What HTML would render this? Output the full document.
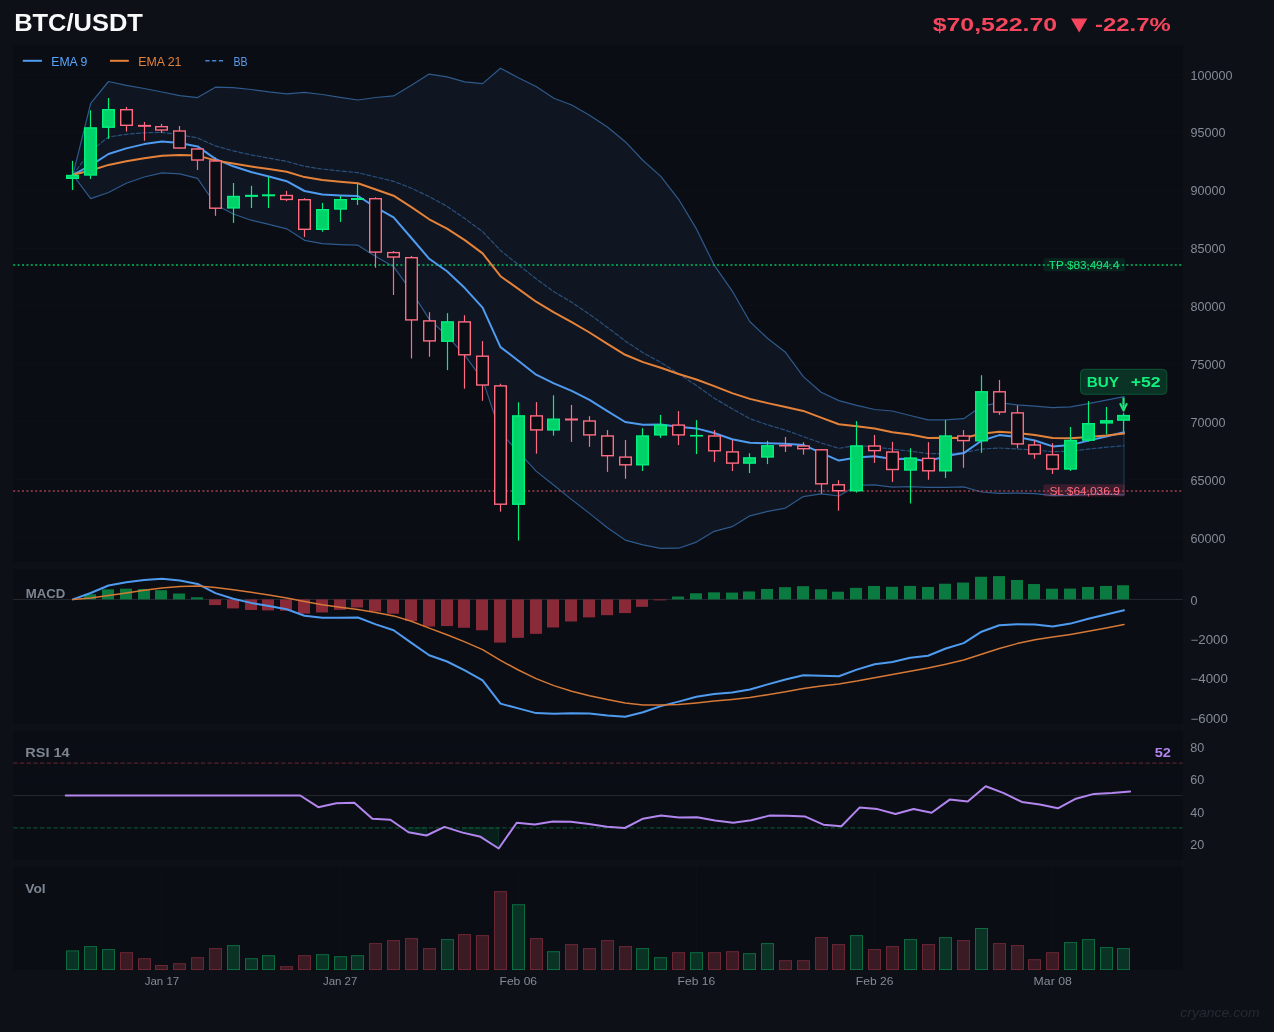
<!DOCTYPE html>
<html><head><meta charset="utf-8"><style>
html,body{margin:0;padding:0;background:#0d1017;width:1274px;height:1032px;overflow:hidden}
svg{display:block;will-change:transform}
</style></head><body>
<svg width="1274" height="1032" viewBox="0 0 1274 1032">
<rect x="0" y="0" width="1274" y2="1032" height="1032" fill="#0d1017"/>
<rect x="13.2" y="45" width="1169.4" height="517.0" fill="#0a0d14"/>
<rect x="13.2" y="569" width="1169.4" height="155.0" fill="#0a0d14"/>
<rect x="13.2" y="731" width="1169.4" height="128.6" fill="#0a0d14"/>
<rect x="13.2" y="867.4" width="1169.4" height="102.6" fill="#0a0d14"/>
<line x1="13.2" x2="1182.6" y1="74.5" y2="74.5" stroke="#0c1017" stroke-width="1"/>
<line x1="13.2" x2="1182.6" y1="132.5" y2="132.5" stroke="#0c1017" stroke-width="1"/>
<line x1="13.2" x2="1182.6" y1="190.5" y2="190.5" stroke="#0c1017" stroke-width="1"/>
<line x1="13.2" x2="1182.6" y1="248.5" y2="248.5" stroke="#0c1017" stroke-width="1"/>
<line x1="13.2" x2="1182.6" y1="305.5" y2="305.5" stroke="#0c1017" stroke-width="1"/>
<line x1="13.2" x2="1182.6" y1="363.5" y2="363.5" stroke="#0c1017" stroke-width="1"/>
<line x1="13.2" x2="1182.6" y1="421.5" y2="421.5" stroke="#0c1017" stroke-width="1"/>
<line x1="13.2" x2="1182.6" y1="479.5" y2="479.5" stroke="#0c1017" stroke-width="1"/>
<line x1="13.2" x2="1182.6" y1="537.5" y2="537.5" stroke="#0c1017" stroke-width="1"/>
<polygon points="72.9,174.8 90.7,103.4 108.5,81.5 126.3,85.3 144.2,88.5 162.0,92.0 179.8,95.6 197.6,97.6 215.4,87.2 233.2,87.7 251.1,89.5 268.9,91.9 286.7,93.9 304.5,92.3 322.3,94.5 340.1,97.3 357.9,100.0 375.8,97.5 393.6,95.9 411.4,85.2 429.2,74.1 447.0,76.8 464.8,81.8 482.6,83.6 500.5,68.2 518.3,77.7 536.1,86.5 553.9,98.2 571.7,105.0 589.5,115.2 607.4,127.0 625.2,141.7 643.0,160.5 660.8,176.4 678.6,199.3 696.4,228.9 714.2,265.1 732.1,290.8 749.9,321.7 767.7,338.5 785.5,352.3 803.3,376.6 821.1,392.2 838.9,400.6 856.8,405.3 874.6,409.5 892.4,411.0 910.2,415.5 928.0,419.9 945.8,419.9 963.7,418.7 981.5,406.3 999.3,402.6 1017.1,404.9 1034.9,406.2 1052.7,407.7 1070.5,406.8 1088.4,403.6 1106.2,400.2 1124.0,396.6 1124.0,494.8 1106.2,494.2 1088.4,494.6 1070.5,495.4 1052.7,495.7 1034.9,493.7 1017.1,493.1 999.3,493.4 981.5,492.0 963.7,486.9 945.8,487.3 928.0,487.3 910.2,486.6 892.4,487.2 874.6,484.8 856.8,485.4 838.9,496.0 821.1,493.8 803.3,496.6 785.5,508.1 767.7,511.4 749.9,515.8 732.1,526.7 714.2,531.3 696.4,542.1 678.6,548.2 660.8,548.4 643.0,544.9 625.2,540.1 607.4,527.7 589.5,513.4 571.7,499.6 553.9,485.2 536.1,471.1 518.3,451.7 500.5,432.8 482.6,379.6 464.8,355.4 447.0,335.8 429.2,319.1 411.4,291.3 393.6,266.7 375.8,256.6 357.9,245.2 340.1,244.6 322.3,243.7 304.5,240.3 286.7,228.8 268.9,224.4 251.1,220.2 233.2,214.0 215.4,204.5 197.6,178.4 179.8,173.8 162.0,172.8 144.2,177.0 126.3,183.2 108.5,192.5 90.7,198.6 72.9,174.8" fill="#0f1521" stroke="none"/>
<line x1="1124.0" x2="1124.0" y1="396.6" y2="494.8" stroke="#2e5a8c" stroke-opacity="0.6" stroke-width="1"/>
<polyline points="72.9,174.8 90.7,103.4 108.5,81.5 126.3,85.3 144.2,88.5 162.0,92.0 179.8,95.6 197.6,97.6 215.4,87.2 233.2,87.7 251.1,89.5 268.9,91.9 286.7,93.9 304.5,92.3 322.3,94.5 340.1,97.3 357.9,100.0 375.8,97.5 393.6,95.9 411.4,85.2 429.2,74.1 447.0,76.8 464.8,81.8 482.6,83.6 500.5,68.2 518.3,77.7 536.1,86.5 553.9,98.2 571.7,105.0 589.5,115.2 607.4,127.0 625.2,141.7 643.0,160.5 660.8,176.4 678.6,199.3 696.4,228.9 714.2,265.1 732.1,290.8 749.9,321.7 767.7,338.5 785.5,352.3 803.3,376.6 821.1,392.2 838.9,400.6 856.8,405.3 874.6,409.5 892.4,411.0 910.2,415.5 928.0,419.9 945.8,419.9 963.7,418.7 981.5,406.3 999.3,402.6 1017.1,404.9 1034.9,406.2 1052.7,407.7 1070.5,406.8 1088.4,403.6 1106.2,400.2 1124.0,396.6" fill="none" stroke="#2e5a8c" stroke-width="1.2" stroke-linejoin="round" stroke-linecap="round" />
<polyline points="72.9,174.8 90.7,198.6 108.5,192.5 126.3,183.2 144.2,177.0 162.0,172.8 179.8,173.8 197.6,178.4 215.4,204.5 233.2,214.0 251.1,220.2 268.9,224.4 286.7,228.8 304.5,240.3 322.3,243.7 340.1,244.6 357.9,245.2 375.8,256.6 393.6,266.7 411.4,291.3 429.2,319.1 447.0,335.8 464.8,355.4 482.6,379.6 500.5,432.8 518.3,451.7 536.1,471.1 553.9,485.2 571.7,499.6 589.5,513.4 607.4,527.7 625.2,540.1 643.0,544.9 660.8,548.4 678.6,548.2 696.4,542.1 714.2,531.3 732.1,526.7 749.9,515.8 767.7,511.4 785.5,508.1 803.3,496.6 821.1,493.8 838.9,496.0 856.8,485.4 874.6,484.8 892.4,487.2 910.2,486.6 928.0,487.3 945.8,487.3 963.7,486.9 981.5,492.0 999.3,493.4 1017.1,493.1 1034.9,493.7 1052.7,495.7 1070.5,495.4 1088.4,494.6 1106.2,494.2 1124.0,494.8" fill="none" stroke="#2e5a8c" stroke-width="1.2" stroke-linejoin="round" stroke-linecap="round" />
<polyline points="72.9,174.8 90.7,151.0 108.5,137.0 126.3,134.3 144.2,132.8 162.0,132.4 179.8,134.7 197.6,138.0 215.4,145.9 233.2,150.9 251.1,154.9 268.9,158.1 286.7,161.4 304.5,166.3 322.3,169.1 340.1,171.0 357.9,172.6 375.8,177.0 393.6,181.3 411.4,188.2 429.2,196.6 447.0,206.3 464.8,218.6 482.6,231.6 500.5,250.5 518.3,264.7 536.1,278.8 553.9,291.7 571.7,302.3 589.5,314.3 607.4,327.4 625.2,340.9 643.0,352.7 660.8,362.4 678.6,373.7 696.4,385.5 714.2,398.2 732.1,408.7 749.9,418.7 767.7,424.9 785.5,430.2 803.3,436.6 821.1,443.0 838.9,448.3 856.8,445.3 874.6,447.1 892.4,449.1 910.2,451.1 928.0,453.6 945.8,453.6 963.7,452.8 981.5,449.1 999.3,448.0 1017.1,449.0 1034.9,450.0 1052.7,451.7 1070.5,451.1 1088.4,449.1 1106.2,447.2 1124.0,445.7" fill="none" stroke="#2e5a8c" stroke-width="1.2" stroke-linejoin="round" stroke-linecap="round" stroke-dasharray="4 2.2" stroke-opacity="0.85"/>
<line x1="13.2" x2="1182.6" y1="265.1" y2="265.1" stroke="#00c060" stroke-width="1.5" stroke-dasharray="2 2.4"/>
<line x1="13.2" x2="1182.6" y1="491.0" y2="491.0" stroke="#a0404f" stroke-width="1.5" stroke-dasharray="2 2.4"/>
<polyline points="72.9,174.8 90.7,165.3 108.5,154.0 126.3,148.4 144.2,144.1 162.0,141.4 179.8,142.9 197.6,146.4 215.4,158.9 233.2,166.3 251.1,172.0 268.9,176.5 286.7,181.2 304.5,191.0 322.3,194.6 340.1,195.4 357.9,196.0 375.8,207.3 393.6,217.4 411.4,238.0 429.2,258.8 447.0,271.2 464.8,288.1 482.6,307.6 500.5,347.1 518.3,360.7 536.1,374.7 553.9,383.4 571.7,390.9 589.5,399.8 607.4,411.1 625.2,422.0 643.0,424.7 660.8,424.6 678.6,426.8 696.4,428.4 714.2,433.0 732.1,439.2 749.9,442.8 767.7,443.3 785.5,443.8 803.3,444.9 821.1,452.8 838.9,460.6 856.8,457.5 874.6,456.3 892.4,459.0 910.2,458.7 928.0,461.3 945.8,456.1 963.7,453.1 981.5,440.7 999.3,435.1 1017.1,437.0 1034.9,440.5 1052.7,446.4 1070.5,445.1 1088.4,440.6 1106.2,436.5 1124.0,432.2" fill="none" stroke="#4f9bf0" stroke-width="2" stroke-linejoin="round" stroke-linecap="round" />
<polyline points="72.9,174.8 90.7,170.5 108.5,164.9 126.3,161.3 144.2,158.2 162.0,155.7 179.8,155.1 197.6,155.6 215.4,160.4 233.2,163.6 251.1,166.5 268.9,169.0 286.7,171.8 304.5,177.1 322.3,180.0 340.1,181.7 357.9,183.2 375.8,189.5 393.6,195.7 411.4,207.1 429.2,219.3 447.0,228.6 464.8,240.1 482.6,253.4 500.5,276.2 518.3,288.9 536.1,301.7 553.9,312.4 571.7,322.2 589.5,332.5 607.4,343.8 625.2,354.8 643.0,362.1 660.8,367.8 678.6,374.0 696.4,379.5 714.2,386.1 732.1,393.1 749.9,398.9 767.7,403.1 785.5,407.0 803.3,410.9 821.1,417.6 838.9,424.3 856.8,426.2 874.6,428.5 892.4,432.3 910.2,434.6 928.0,437.9 945.8,437.7 963.7,438.0 981.5,433.7 999.3,431.8 1017.1,433.0 1034.9,435.0 1052.7,438.1 1070.5,438.3 1088.4,436.9 1106.2,435.4 1124.0,433.5" fill="none" stroke="#e5823a" stroke-width="2" stroke-linejoin="round" stroke-linecap="round" />
<line x1="72.50" x2="72.50" y1="160.9" y2="190.0" stroke="#00f07f" stroke-width="1.2"/>
<rect x="66.70" y="175.50" width="11.60" height="2.80" fill="#00d26a" stroke="#00f07f" stroke-width="1.4"/>
<line x1="90.50" x2="90.50" y1="110.3" y2="179.0" stroke="#00f07f" stroke-width="1.2"/>
<rect x="84.70" y="127.90" width="11.60" height="47.10" fill="#00d26a" stroke="#00f07f" stroke-width="1.4"/>
<line x1="108.50" x2="108.50" y1="98.0" y2="138.9" stroke="#00f07f" stroke-width="1.2"/>
<rect x="102.70" y="109.70" width="11.60" height="17.50" fill="#00d26a" stroke="#00f07f" stroke-width="1.4"/>
<line x1="126.50" x2="126.50" y1="106.8" y2="131.6" stroke="#ff6b81" stroke-width="1.2"/>
<rect x="120.70" y="109.70" width="11.60" height="15.60" fill="#0a0d14" stroke="#ff6b81" stroke-width="1.4"/>
<line x1="144.50" x2="144.50" y1="122.0" y2="140.8" stroke="#ff6b81" stroke-width="1.2"/>
<rect x="138.70" y="125.60" width="11.60" height="0.50" fill="#0a0d14" stroke="#ff6b81" stroke-width="1.4"/>
<line x1="161.50" x2="161.50" y1="123.9" y2="133.0" stroke="#ff6b81" stroke-width="1.2"/>
<rect x="155.70" y="126.70" width="11.60" height="3.30" fill="#0a0d14" stroke="#ff6b81" stroke-width="1.4"/>
<line x1="179.50" x2="179.50" y1="126.0" y2="148.7" stroke="#ff6b81" stroke-width="1.2"/>
<rect x="173.70" y="131.00" width="11.60" height="17.00" fill="#0a0d14" stroke="#ff6b81" stroke-width="1.4"/>
<line x1="197.50" x2="197.50" y1="148.3" y2="170.0" stroke="#ff6b81" stroke-width="1.2"/>
<rect x="191.70" y="149.00" width="11.60" height="11.00" fill="#0a0d14" stroke="#ff6b81" stroke-width="1.4"/>
<line x1="215.50" x2="215.50" y1="157.4" y2="215.8" stroke="#ff6b81" stroke-width="1.2"/>
<rect x="209.70" y="161.00" width="11.60" height="47.20" fill="#0a0d14" stroke="#ff6b81" stroke-width="1.4"/>
<line x1="233.50" x2="233.50" y1="183.0" y2="222.9" stroke="#00f07f" stroke-width="1.2"/>
<rect x="227.70" y="196.50" width="11.60" height="11.40" fill="#00d26a" stroke="#00f07f" stroke-width="1.4"/>
<line x1="251.50" x2="251.50" y1="185.8" y2="208.0" stroke="#00f07f" stroke-width="1.2"/>
<rect x="245.70" y="195.50" width="11.60" height="0.70" fill="#00d26a" stroke="#00f07f" stroke-width="1.4"/>
<line x1="268.50" x2="268.50" y1="176.7" y2="208.0" stroke="#00f07f" stroke-width="1.2"/>
<rect x="262.70" y="195.00" width="11.60" height="0.60" fill="#00d26a" stroke="#00f07f" stroke-width="1.4"/>
<line x1="286.50" x2="286.50" y1="190.9" y2="201.2" stroke="#ff6b81" stroke-width="1.2"/>
<rect x="280.70" y="195.50" width="11.60" height="3.90" fill="#0a0d14" stroke="#ff6b81" stroke-width="1.4"/>
<line x1="304.50" x2="304.50" y1="198.2" y2="237.0" stroke="#ff6b81" stroke-width="1.2"/>
<rect x="298.70" y="199.70" width="11.60" height="29.60" fill="#0a0d14" stroke="#ff6b81" stroke-width="1.4"/>
<line x1="322.50" x2="322.50" y1="202.9" y2="231.7" stroke="#00f07f" stroke-width="1.2"/>
<rect x="316.70" y="209.70" width="11.60" height="19.60" fill="#00d26a" stroke="#00f07f" stroke-width="1.4"/>
<line x1="340.50" x2="340.50" y1="195.8" y2="221.9" stroke="#00f07f" stroke-width="1.2"/>
<rect x="334.70" y="199.70" width="11.60" height="9.30" fill="#00d26a" stroke="#00f07f" stroke-width="1.4"/>
<line x1="357.50" x2="357.50" y1="183.7" y2="205.0" stroke="#00f07f" stroke-width="1.2"/>
<rect x="351.70" y="198.70" width="11.60" height="0.60" fill="#00d26a" stroke="#00f07f" stroke-width="1.4"/>
<line x1="375.50" x2="375.50" y1="197.3" y2="267.7" stroke="#ff6b81" stroke-width="1.2"/>
<rect x="369.70" y="198.70" width="11.60" height="53.40" fill="#0a0d14" stroke="#ff6b81" stroke-width="1.4"/>
<line x1="393.50" x2="393.50" y1="251.0" y2="295.0" stroke="#ff6b81" stroke-width="1.2"/>
<rect x="387.70" y="252.60" width="11.60" height="4.40" fill="#0a0d14" stroke="#ff6b81" stroke-width="1.4"/>
<line x1="411.50" x2="411.50" y1="256.0" y2="358.5" stroke="#ff6b81" stroke-width="1.2"/>
<rect x="405.70" y="257.70" width="11.60" height="62.20" fill="#0a0d14" stroke="#ff6b81" stroke-width="1.4"/>
<line x1="429.50" x2="429.50" y1="312.2" y2="356.8" stroke="#ff6b81" stroke-width="1.2"/>
<rect x="423.70" y="320.90" width="11.60" height="20.00" fill="#0a0d14" stroke="#ff6b81" stroke-width="1.4"/>
<line x1="447.50" x2="447.50" y1="313.2" y2="370.1" stroke="#00f07f" stroke-width="1.2"/>
<rect x="441.70" y="321.90" width="11.60" height="19.30" fill="#00d26a" stroke="#00f07f" stroke-width="1.4"/>
<line x1="464.50" x2="464.50" y1="315.2" y2="388.7" stroke="#ff6b81" stroke-width="1.2"/>
<rect x="458.70" y="321.90" width="11.60" height="32.90" fill="#0a0d14" stroke="#ff6b81" stroke-width="1.4"/>
<line x1="482.50" x2="482.50" y1="341.1" y2="400.8" stroke="#ff6b81" stroke-width="1.2"/>
<rect x="476.70" y="356.20" width="11.60" height="28.80" fill="#0a0d14" stroke="#ff6b81" stroke-width="1.4"/>
<line x1="500.50" x2="500.50" y1="383.7" y2="511.7" stroke="#ff6b81" stroke-width="1.2"/>
<rect x="494.70" y="385.90" width="11.60" height="118.30" fill="#0a0d14" stroke="#ff6b81" stroke-width="1.4"/>
<line x1="518.50" x2="518.50" y1="402.3" y2="540.6" stroke="#00f07f" stroke-width="1.2"/>
<rect x="512.70" y="415.90" width="11.60" height="88.30" fill="#00d26a" stroke="#00f07f" stroke-width="1.4"/>
<line x1="536.50" x2="536.50" y1="402.1" y2="453.7" stroke="#ff6b81" stroke-width="1.2"/>
<rect x="530.70" y="415.90" width="11.60" height="14.00" fill="#0a0d14" stroke="#ff6b81" stroke-width="1.4"/>
<line x1="553.50" x2="553.50" y1="395.3" y2="435.6" stroke="#00f07f" stroke-width="1.2"/>
<rect x="547.70" y="419.20" width="11.60" height="10.70" fill="#00d26a" stroke="#00f07f" stroke-width="1.4"/>
<line x1="571.50" x2="571.50" y1="404.9" y2="441.9" stroke="#ff6b81" stroke-width="1.2"/>
<rect x="565.70" y="419.20" width="11.60" height="0.60" fill="#0a0d14" stroke="#ff6b81" stroke-width="1.4"/>
<line x1="589.50" x2="589.50" y1="416.2" y2="446.8" stroke="#ff6b81" stroke-width="1.2"/>
<rect x="583.70" y="421.00" width="11.60" height="13.90" fill="#0a0d14" stroke="#ff6b81" stroke-width="1.4"/>
<line x1="607.50" x2="607.50" y1="430.1" y2="471.9" stroke="#ff6b81" stroke-width="1.2"/>
<rect x="601.70" y="436.00" width="11.60" height="19.70" fill="#0a0d14" stroke="#ff6b81" stroke-width="1.4"/>
<line x1="625.50" x2="625.50" y1="440.0" y2="478.8" stroke="#ff6b81" stroke-width="1.2"/>
<rect x="619.70" y="457.10" width="11.60" height="7.70" fill="#0a0d14" stroke="#ff6b81" stroke-width="1.4"/>
<line x1="642.50" x2="642.50" y1="428.2" y2="471.0" stroke="#00f07f" stroke-width="1.2"/>
<rect x="636.70" y="436.00" width="11.60" height="28.80" fill="#00d26a" stroke="#00f07f" stroke-width="1.4"/>
<line x1="660.50" x2="660.50" y1="414.9" y2="437.9" stroke="#00f07f" stroke-width="1.2"/>
<rect x="654.70" y="425.10" width="11.60" height="9.80" fill="#00d26a" stroke="#00f07f" stroke-width="1.4"/>
<line x1="678.50" x2="678.50" y1="411.1" y2="445.1" stroke="#ff6b81" stroke-width="1.2"/>
<rect x="672.70" y="425.10" width="11.60" height="9.80" fill="#0a0d14" stroke="#ff6b81" stroke-width="1.4"/>
<line x1="696.50" x2="696.50" y1="420.1" y2="454.1" stroke="#00f07f" stroke-width="1.2"/>
<rect x="690.70" y="435.60" width="11.60" height="0.30" fill="#00d26a" stroke="#00f07f" stroke-width="1.4"/>
<line x1="714.50" x2="714.50" y1="430.1" y2="461.9" stroke="#ff6b81" stroke-width="1.2"/>
<rect x="708.70" y="436.00" width="11.60" height="14.80" fill="#0a0d14" stroke="#ff6b81" stroke-width="1.4"/>
<line x1="732.50" x2="732.50" y1="440.0" y2="471.0" stroke="#ff6b81" stroke-width="1.2"/>
<rect x="726.70" y="451.90" width="11.60" height="11.20" fill="#0a0d14" stroke="#ff6b81" stroke-width="1.4"/>
<line x1="749.50" x2="749.50" y1="453.2" y2="473.1" stroke="#00f07f" stroke-width="1.2"/>
<rect x="743.70" y="457.90" width="11.60" height="5.20" fill="#00d26a" stroke="#00f07f" stroke-width="1.4"/>
<line x1="767.50" x2="767.50" y1="440.8" y2="464.1" stroke="#00f07f" stroke-width="1.2"/>
<rect x="761.70" y="445.80" width="11.60" height="11.20" fill="#00d26a" stroke="#00f07f" stroke-width="1.4"/>
<line x1="785.50" x2="785.50" y1="437.0" y2="452.0" stroke="#ff6b81" stroke-width="1.2"/>
<rect x="779.70" y="445.50" width="11.60" height="0.30" fill="#0a0d14" stroke="#ff6b81" stroke-width="1.4"/>
<line x1="803.50" x2="803.50" y1="442.2" y2="454.6" stroke="#ff6b81" stroke-width="1.2"/>
<rect x="797.70" y="446.00" width="11.60" height="2.70" fill="#0a0d14" stroke="#ff6b81" stroke-width="1.4"/>
<line x1="821.50" x2="821.50" y1="449.1" y2="493.6" stroke="#ff6b81" stroke-width="1.2"/>
<rect x="815.70" y="449.80" width="11.60" height="34.00" fill="#0a0d14" stroke="#ff6b81" stroke-width="1.4"/>
<line x1="838.50" x2="838.50" y1="480.2" y2="510.7" stroke="#ff6b81" stroke-width="1.2"/>
<rect x="832.70" y="484.80" width="11.60" height="5.90" fill="#0a0d14" stroke="#ff6b81" stroke-width="1.4"/>
<line x1="856.50" x2="856.50" y1="421.1" y2="492.6" stroke="#00f07f" stroke-width="1.2"/>
<rect x="850.70" y="446.00" width="11.60" height="44.70" fill="#00d26a" stroke="#00f07f" stroke-width="1.4"/>
<line x1="874.50" x2="874.50" y1="434.9" y2="462.9" stroke="#ff6b81" stroke-width="1.2"/>
<rect x="868.70" y="446.00" width="11.60" height="4.60" fill="#0a0d14" stroke="#ff6b81" stroke-width="1.4"/>
<line x1="892.50" x2="892.50" y1="441.8" y2="481.9" stroke="#ff6b81" stroke-width="1.2"/>
<rect x="886.70" y="452.00" width="11.60" height="17.50" fill="#0a0d14" stroke="#ff6b81" stroke-width="1.4"/>
<line x1="910.50" x2="910.50" y1="448.2" y2="503.5" stroke="#00f07f" stroke-width="1.2"/>
<rect x="904.70" y="458.10" width="11.60" height="11.90" fill="#00d26a" stroke="#00f07f" stroke-width="1.4"/>
<line x1="928.50" x2="928.50" y1="442.2" y2="479.7" stroke="#ff6b81" stroke-width="1.2"/>
<rect x="922.70" y="458.40" width="11.60" height="12.40" fill="#0a0d14" stroke="#ff6b81" stroke-width="1.4"/>
<line x1="945.50" x2="945.50" y1="420.1" y2="477.9" stroke="#00f07f" stroke-width="1.2"/>
<rect x="939.70" y="436.00" width="11.60" height="34.80" fill="#00d26a" stroke="#00f07f" stroke-width="1.4"/>
<line x1="963.50" x2="963.50" y1="430.1" y2="467.8" stroke="#ff6b81" stroke-width="1.2"/>
<rect x="957.70" y="436.00" width="11.60" height="4.60" fill="#0a0d14" stroke="#ff6b81" stroke-width="1.4"/>
<line x1="981.50" x2="981.50" y1="375.2" y2="452.9" stroke="#00f07f" stroke-width="1.2"/>
<rect x="975.70" y="391.80" width="11.60" height="49.00" fill="#00d26a" stroke="#00f07f" stroke-width="1.4"/>
<line x1="999.50" x2="999.50" y1="379.9" y2="414.9" stroke="#ff6b81" stroke-width="1.2"/>
<rect x="993.70" y="391.80" width="11.60" height="20.20" fill="#0a0d14" stroke="#ff6b81" stroke-width="1.4"/>
<line x1="1017.50" x2="1017.50" y1="405.3" y2="448.4" stroke="#ff6b81" stroke-width="1.2"/>
<rect x="1011.70" y="412.90" width="11.60" height="31.00" fill="#0a0d14" stroke="#ff6b81" stroke-width="1.4"/>
<line x1="1034.50" x2="1034.50" y1="440.3" y2="458.8" stroke="#ff6b81" stroke-width="1.2"/>
<rect x="1028.70" y="445.00" width="11.60" height="8.90" fill="#0a0d14" stroke="#ff6b81" stroke-width="1.4"/>
<line x1="1052.50" x2="1052.50" y1="443.2" y2="474.0" stroke="#ff6b81" stroke-width="1.2"/>
<rect x="1046.70" y="454.80" width="11.60" height="14.20" fill="#0a0d14" stroke="#ff6b81" stroke-width="1.4"/>
<line x1="1070.50" x2="1070.50" y1="427.0" y2="470.9" stroke="#00f07f" stroke-width="1.2"/>
<rect x="1064.70" y="440.50" width="11.60" height="28.50" fill="#00d26a" stroke="#00f07f" stroke-width="1.4"/>
<line x1="1088.50" x2="1088.50" y1="401.1" y2="441.5" stroke="#00f07f" stroke-width="1.2"/>
<rect x="1082.70" y="423.70" width="11.60" height="16.40" fill="#00d26a" stroke="#00f07f" stroke-width="1.4"/>
<line x1="1106.50" x2="1106.50" y1="407.0" y2="434.3" stroke="#00f07f" stroke-width="1.2"/>
<rect x="1100.70" y="420.80" width="11.60" height="2.10" fill="#00d26a" stroke="#00f07f" stroke-width="1.4"/>
<line x1="1123.50" x2="1123.50" y1="413.2" y2="431.7" stroke="#00f07f" stroke-width="1.2"/>
<rect x="1117.70" y="415.60" width="11.60" height="4.50" fill="#00d26a" stroke="#00f07f" stroke-width="1.4"/>
<rect x="1043.4" y="258.2" width="81.6" height="13" rx="2" fill="#00c864" fill-opacity="0.12"/>
<text x="1048.8" y="268.8" font-family="Liberation Sans, sans-serif" font-size="10.5" fill="#1ee27a" textLength="70.4" lengthAdjust="spacingAndGlyphs">TP $83,494.4</text>
<rect x="1043.4" y="484.2" width="81.6" height="12.4" rx="2" fill="#ff4060" fill-opacity="0.18"/>
<text x="1049.4" y="495.0" font-family="Liberation Sans, sans-serif" font-size="10.5" fill="#ff6b81" textLength="70.4" lengthAdjust="spacingAndGlyphs">SL $64,036.9</text>
<rect x="1080.5" y="369.3" width="86.3" height="25" rx="4" fill="#0a3325" stroke="#0e5634" stroke-width="1"/>
<text x="1086.8" y="387.0" font-family="Liberation Sans, sans-serif" font-size="14" font-weight="bold" fill="#0ff07e" textLength="32.2" lengthAdjust="spacingAndGlyphs">BUY</text>
<text x="1130.7" y="387.0" font-family="Liberation Sans, sans-serif" font-size="14" font-weight="bold" fill="#0ff07e" textLength="29.9" lengthAdjust="spacingAndGlyphs">+52</text>
<path d="M1123.5 397.5 V409" fill="none" stroke="#1ee27a" stroke-width="2.2"/>
<path d="M1120 403.2 L1123.5 410.6 L1127 403.2" fill="none" stroke="#1ee27a" stroke-width="2" stroke-linejoin="round"/>
<text x="1190.6" y="79.8" font-family="Liberation Sans, sans-serif" font-size="12" fill="#848b95" textLength="42.0" lengthAdjust="spacingAndGlyphs">100000</text>
<text x="1190.6" y="136.8" font-family="Liberation Sans, sans-serif" font-size="12" fill="#848b95" textLength="35.0" lengthAdjust="spacingAndGlyphs">95000</text>
<text x="1190.6" y="194.9" font-family="Liberation Sans, sans-serif" font-size="12" fill="#848b95" textLength="35.0" lengthAdjust="spacingAndGlyphs">90000</text>
<text x="1190.6" y="252.9" font-family="Liberation Sans, sans-serif" font-size="12" fill="#848b95" textLength="35.0" lengthAdjust="spacingAndGlyphs">85000</text>
<text x="1190.6" y="311.0" font-family="Liberation Sans, sans-serif" font-size="12" fill="#848b95" textLength="35.0" lengthAdjust="spacingAndGlyphs">80000</text>
<text x="1190.6" y="369.0" font-family="Liberation Sans, sans-serif" font-size="12" fill="#848b95" textLength="35.0" lengthAdjust="spacingAndGlyphs">75000</text>
<text x="1190.6" y="427.1" font-family="Liberation Sans, sans-serif" font-size="12" fill="#848b95" textLength="35.0" lengthAdjust="spacingAndGlyphs">70000</text>
<text x="1190.6" y="485.1" font-family="Liberation Sans, sans-serif" font-size="12" fill="#848b95" textLength="35.0" lengthAdjust="spacingAndGlyphs">65000</text>
<text x="1190.6" y="543.2" font-family="Liberation Sans, sans-serif" font-size="12" fill="#848b95" textLength="35.0" lengthAdjust="spacingAndGlyphs">60000</text>
<line x1="22.8" x2="41.9" y1="60.8" y2="60.8" stroke="#4f9bf0" stroke-width="2"/>
<text x="51.3" y="65.7" font-family="Liberation Sans, sans-serif" font-size="12" fill="#58a6ff" textLength="35.9" lengthAdjust="spacingAndGlyphs">EMA 9</text>
<line x1="110" x2="128.8" y1="60.8" y2="60.8" stroke="#e5823a" stroke-width="2"/>
<text x="138.2" y="65.7" font-family="Liberation Sans, sans-serif" font-size="12" fill="#e5823a" textLength="43.2" lengthAdjust="spacingAndGlyphs">EMA 21</text>
<line x1="205.3" x2="223.6" y1="60.8" y2="60.8" stroke="#4f9bf0" stroke-width="1.5" stroke-dasharray="4.2 2.6" stroke-opacity="0.85"/>
<text x="233.4" y="65.7" font-family="Liberation Sans, sans-serif" font-size="12" fill="#5b9ae8" textLength="14.1" lengthAdjust="spacingAndGlyphs">BB</text>
<text x="14.2" y="30.8" font-family="Liberation Sans, sans-serif" font-size="24" font-weight="bold" fill="#f8f9fa" textLength="128.7" lengthAdjust="spacingAndGlyphs">BTC/USDT</text>
<text x="932.7" y="30.9" font-family="Liberation Sans, sans-serif" font-size="18" font-weight="bold" fill="#f6465d" textLength="124.4" lengthAdjust="spacingAndGlyphs">$70,522.70</text>
<path d="M1071 18.4 L1087.3 18.4 L1079.15 32.4 Z" fill="#f6465d"/>
<text x="1095.1" y="30.9" font-family="Liberation Sans, sans-serif" font-size="18" font-weight="bold" fill="#f6465d" textLength="75.5" lengthAdjust="spacingAndGlyphs">-22.7%</text>
<line x1="13.2" x2="1182.6" y1="599.4" y2="599.4" stroke="#262b33" stroke-width="1"/>
<text x="1190.6" y="604.7" font-family="Liberation Sans, sans-serif" font-size="12" fill="#848b95" textLength="7.0" lengthAdjust="spacingAndGlyphs">0</text>
<line x1="13.2" x2="1182.6" y1="638.7" y2="638.7" stroke="#0c1017" stroke-width="1"/>
<text x="1190.6" y="644.0" font-family="Liberation Sans, sans-serif" font-size="12" fill="#848b95" textLength="37.2" lengthAdjust="spacingAndGlyphs">−2000</text>
<line x1="13.2" x2="1182.6" y1="678.0" y2="678.0" stroke="#0c1017" stroke-width="1"/>
<text x="1190.6" y="683.3" font-family="Liberation Sans, sans-serif" font-size="12" fill="#848b95" textLength="37.2" lengthAdjust="spacingAndGlyphs">−4000</text>
<line x1="13.2" x2="1182.6" y1="717.4" y2="717.4" stroke="#0c1017" stroke-width="1"/>
<text x="1190.6" y="722.7" font-family="Liberation Sans, sans-serif" font-size="12" fill="#848b95" textLength="37.2" lengthAdjust="spacingAndGlyphs">−6000</text>
<rect x="84.00" y="594.26" width="12" height="5.14" fill="#0b7a40"/>
<rect x="102.00" y="589.35" width="12" height="10.05" fill="#0b7a40"/>
<rect x="120.00" y="588.67" width="12" height="10.73" fill="#0b7a40"/>
<rect x="138.00" y="588.95" width="12" height="10.45" fill="#0b7a40"/>
<rect x="155.00" y="590.18" width="12" height="9.22" fill="#0b7a40"/>
<rect x="173.00" y="593.48" width="12" height="5.92" fill="#0b7a40"/>
<rect x="191.00" y="597.28" width="12" height="2.12" fill="#0b7a40"/>
<rect x="209.00" y="599.40" width="12" height="5.70" fill="#8a2a38"/>
<rect x="227.00" y="599.40" width="12" height="9.00" fill="#8a2a38"/>
<rect x="245.00" y="599.40" width="12" height="10.57" fill="#8a2a38"/>
<rect x="262.00" y="599.40" width="12" height="11.01" fill="#8a2a38"/>
<rect x="280.00" y="599.40" width="12" height="11.38" fill="#8a2a38"/>
<rect x="298.00" y="599.40" width="12" height="14.26" fill="#8a2a38"/>
<rect x="316.00" y="599.40" width="12" height="13.03" fill="#8a2a38"/>
<rect x="334.00" y="599.40" width="12" height="10.44" fill="#8a2a38"/>
<rect x="351.00" y="599.40" width="12" height="8.10" fill="#8a2a38"/>
<rect x="369.00" y="599.40" width="12" height="12.03" fill="#8a2a38"/>
<rect x="387.00" y="599.40" width="12" height="14.28" fill="#8a2a38"/>
<rect x="405.00" y="599.40" width="12" height="21.59" fill="#8a2a38"/>
<rect x="423.00" y="599.40" width="12" height="27.10" fill="#8a2a38"/>
<rect x="441.00" y="599.40" width="12" height="26.67" fill="#8a2a38"/>
<rect x="458.00" y="599.40" width="12" height="28.39" fill="#8a2a38"/>
<rect x="476.00" y="599.40" width="12" height="30.86" fill="#8a2a38"/>
<rect x="494.00" y="599.40" width="12" height="43.21" fill="#8a2a38"/>
<rect x="512.00" y="599.40" width="12" height="38.43" fill="#8a2a38"/>
<rect x="530.00" y="599.40" width="12" height="34.45" fill="#8a2a38"/>
<rect x="547.00" y="599.40" width="12" height="28.11" fill="#8a2a38"/>
<rect x="565.00" y="599.40" width="12" height="22.10" fill="#8a2a38"/>
<rect x="583.00" y="599.40" width="12" height="17.97" fill="#8a2a38"/>
<rect x="601.00" y="599.40" width="12" height="15.80" fill="#8a2a38"/>
<rect x="619.00" y="599.40" width="12" height="13.69" fill="#8a2a38"/>
<rect x="636.00" y="599.40" width="12" height="7.44" fill="#8a2a38"/>
<rect x="654.00" y="599.40" width="12" height="0.99" fill="#8a2a38"/>
<rect x="672.00" y="596.55" width="12" height="2.85" fill="#0b7a40"/>
<rect x="690.00" y="593.25" width="12" height="6.15" fill="#0b7a40"/>
<rect x="708.00" y="592.36" width="12" height="7.04" fill="#0b7a40"/>
<rect x="726.00" y="592.57" width="12" height="6.83" fill="#0b7a40"/>
<rect x="743.00" y="591.44" width="12" height="7.96" fill="#0b7a40"/>
<rect x="761.00" y="588.94" width="12" height="10.46" fill="#0b7a40"/>
<rect x="779.00" y="587.15" width="12" height="12.25" fill="#0b7a40"/>
<rect x="797.00" y="586.20" width="12" height="13.20" fill="#0b7a40"/>
<rect x="815.00" y="589.27" width="12" height="10.13" fill="#0b7a40"/>
<rect x="832.00" y="591.69" width="12" height="7.71" fill="#0b7a40"/>
<rect x="850.00" y="587.86" width="12" height="11.54" fill="#0b7a40"/>
<rect x="868.00" y="585.96" width="12" height="13.44" fill="#0b7a40"/>
<rect x="886.00" y="586.81" width="12" height="12.59" fill="#0b7a40"/>
<rect x="904.00" y="585.93" width="12" height="13.47" fill="#0b7a40"/>
<rect x="922.00" y="586.95" width="12" height="12.45" fill="#0b7a40"/>
<rect x="939.00" y="583.71" width="12" height="15.69" fill="#0b7a40"/>
<rect x="957.00" y="582.55" width="12" height="16.85" fill="#0b7a40"/>
<rect x="975.00" y="576.74" width="12" height="22.66" fill="#0b7a40"/>
<rect x="993.00" y="576.11" width="12" height="23.29" fill="#0b7a40"/>
<rect x="1011.00" y="579.94" width="12" height="19.46" fill="#0b7a40"/>
<rect x="1028.00" y="584.04" width="12" height="15.36" fill="#0b7a40"/>
<rect x="1046.00" y="588.68" width="12" height="10.72" fill="#0b7a40"/>
<rect x="1064.00" y="588.57" width="12" height="10.83" fill="#0b7a40"/>
<rect x="1082.00" y="586.94" width="12" height="12.46" fill="#0b7a40"/>
<rect x="1100.00" y="585.96" width="12" height="13.44" fill="#0b7a40"/>
<rect x="1117.00" y="585.23" width="12" height="14.17" fill="#0b7a40"/>
<polyline points="72.9,599.4 90.7,593.0 108.5,585.5 126.3,582.2 144.2,579.9 162.0,578.8 179.8,580.6 197.6,583.9 215.4,593.1 233.2,598.7 251.1,602.9 268.9,606.1 286.7,609.3 304.5,615.7 322.3,617.8 340.1,617.8 357.9,617.5 375.8,624.4 393.6,630.2 411.4,642.9 429.2,655.2 447.0,661.5 464.8,670.3 482.6,680.4 500.5,703.6 518.3,708.4 536.1,713.1 553.9,713.8 571.7,713.3 589.5,713.6 607.4,715.4 625.2,716.7 643.0,712.3 660.8,706.1 678.6,701.6 696.4,696.7 714.2,694.1 732.1,692.6 749.9,689.5 767.7,684.4 785.5,679.5 803.3,675.3 821.1,675.8 838.9,676.3 856.8,669.6 874.6,664.3 892.4,662.0 910.2,657.8 928.0,655.7 945.8,648.5 963.7,643.1 981.5,631.7 999.3,625.2 1017.1,624.2 1034.9,624.4 1052.7,626.4 1070.5,623.6 1088.4,618.8 1106.2,614.5 1124.0,610.2" fill="none" stroke="#4f9bf0" stroke-width="2" stroke-linejoin="round" stroke-linecap="round" />
<polyline points="72.9,599.4 90.7,598.1 108.5,595.6 126.3,592.9 144.2,590.3 162.0,588.0 179.8,586.5 197.6,586.0 215.4,587.4 233.2,589.7 251.1,592.3 268.9,595.1 286.7,597.9 304.5,601.5 322.3,604.7 340.1,607.3 357.9,609.4 375.8,612.4 393.6,615.9 411.4,621.3 429.2,628.1 447.0,634.8 464.8,641.9 482.6,649.6 500.5,660.4 518.3,670.0 536.1,678.6 553.9,685.6 571.7,691.2 589.5,695.7 607.4,699.6 625.2,703.0 643.0,704.9 660.8,705.1 678.6,704.4 696.4,702.9 714.2,701.1 732.1,699.4 749.9,697.4 767.7,694.8 785.5,691.8 803.3,688.5 821.1,685.9 838.9,684.0 856.8,681.1 874.6,677.8 892.4,674.6 910.2,671.2 928.0,668.1 945.8,664.2 963.7,660.0 981.5,654.3 999.3,648.5 1017.1,643.6 1034.9,639.8 1052.7,637.1 1070.5,634.4 1088.4,631.3 1106.2,627.9 1124.0,624.4" fill="none" stroke="#d67836" stroke-width="1.5" stroke-linejoin="round" stroke-linecap="round" />
<text x="25.8" y="597.9" font-family="Liberation Sans, sans-serif" font-size="12" font-weight="bold" fill="#7d8590" textLength="39.6" lengthAdjust="spacingAndGlyphs">MACD</text>
<line x1="13.2" x2="1182.6" y1="746.9" y2="746.9" stroke="#0c1017" stroke-width="1"/>
<text x="1190.3" y="752.0" font-family="Liberation Sans, sans-serif" font-size="12" fill="#848b95" textLength="14" lengthAdjust="spacingAndGlyphs">80</text>
<line x1="13.2" x2="1182.6" y1="779.3" y2="779.3" stroke="#0c1017" stroke-width="1"/>
<text x="1190.3" y="784.4" font-family="Liberation Sans, sans-serif" font-size="12" fill="#848b95" textLength="14" lengthAdjust="spacingAndGlyphs">60</text>
<line x1="13.2" x2="1182.6" y1="811.7" y2="811.7" stroke="#0c1017" stroke-width="1"/>
<text x="1190.3" y="816.8" font-family="Liberation Sans, sans-serif" font-size="12" fill="#848b95" textLength="14" lengthAdjust="spacingAndGlyphs">40</text>
<line x1="13.2" x2="1182.6" y1="844.1" y2="844.1" stroke="#0c1017" stroke-width="1"/>
<text x="1190.3" y="849.2" font-family="Liberation Sans, sans-serif" font-size="12" fill="#848b95" textLength="14" lengthAdjust="spacingAndGlyphs">20</text>
<line x1="13.2" x2="1182.6" y1="795.5" y2="795.5" stroke="#22272e" stroke-width="1"/>
<line x1="13.2" x2="1182.6" y1="763.1" y2="763.1" stroke="#6a2631" stroke-width="1" stroke-dasharray="4.4 2.3"/>
<line x1="13.2" x2="1182.6" y1="827.9" y2="827.9" stroke="#0b5c36" stroke-width="1" stroke-dasharray="4.4 2.3"/>
<polygon points="408.5,827.9 408.5,832.3 426.5,835.5 426.5,827.9" fill="#00c864" fill-opacity="0.1" stroke="#00c864" stroke-opacity="0.15" stroke-width="1"/>
<polygon points="462.6,827.9 462.6,832.6 480.6,836.8 498.7,848.5 498.7,827.9" fill="#00c864" fill-opacity="0.1" stroke="#00c864" stroke-opacity="0.15" stroke-width="1"/>
<polyline points="65.7,795.5 83.7,795.5 101.8,795.5 119.8,795.5 137.9,795.5 155.9,795.5 173.9,795.5 192.0,795.5 210.0,795.5 228.1,795.5 246.1,795.5 264.1,795.5 282.2,795.5 300.2,795.5 318.3,807.2 336.3,803.2 354.3,802.7 372.4,818.7 390.4,819.8 408.5,832.3 426.5,835.5 444.5,826.9 462.6,832.6 480.6,836.8 498.7,848.5 516.7,822.8 534.7,824.6 552.8,821.5 570.8,821.8 588.9,823.9 606.9,826.8 624.9,828.0 643.0,818.7 661.0,815.4 679.1,817.5 697.1,817.2 715.1,820.4 733.2,822.7 751.2,820.2 769.3,815.6 787.3,815.8 805.3,816.6 823.4,824.7 841.4,826.2 859.5,807.6 877.5,809.1 895.5,814.0 913.6,809.0 931.6,812.8 949.7,799.6 967.7,801.4 985.7,786.3 1003.8,793.1 1021.8,801.9 1039.9,804.5 1057.9,808.3 1075.9,798.7 1094.0,793.9 1112.0,793.0 1130.1,791.4" fill="none" stroke="#b286ee" stroke-width="2" stroke-linejoin="round" stroke-linecap="round" />
<text x="25.3" y="757.1" font-family="Liberation Sans, sans-serif" font-size="12" font-weight="bold" fill="#7d8590" textLength="44.4" lengthAdjust="spacingAndGlyphs">RSI 14</text>
<text x="1154.7" y="757.3" font-family="Liberation Sans, sans-serif" font-size="12.5" font-weight="bold" fill="#b286ee" textLength="16.2" lengthAdjust="spacingAndGlyphs">52</text>
<line x1="161.5" x2="161.5" y1="867.4" y2="970" stroke="#0c1017" stroke-width="1"/>
<line x1="340.5" x2="340.5" y1="867.4" y2="970" stroke="#0c1017" stroke-width="1"/>
<line x1="518.5" x2="518.5" y1="867.4" y2="970" stroke="#0c1017" stroke-width="1"/>
<line x1="696.5" x2="696.5" y1="867.4" y2="970" stroke="#0c1017" stroke-width="1"/>
<line x1="874.5" x2="874.5" y1="867.4" y2="970" stroke="#0c1017" stroke-width="1"/>
<line x1="1052.5" x2="1052.5" y1="867.4" y2="970" stroke="#0c1017" stroke-width="1"/>
<rect x="66.50" y="950.90" width="12" height="18.60" fill="#0a3326" stroke="#0d6b40" stroke-width="1"/>
<rect x="84.50" y="946.60" width="12" height="22.90" fill="#0a3326" stroke="#0d6b40" stroke-width="1"/>
<rect x="102.50" y="949.60" width="12" height="19.90" fill="#0a3326" stroke="#0d6b40" stroke-width="1"/>
<rect x="120.50" y="952.70" width="12" height="16.80" fill="#3a1b24" stroke="#6b2733" stroke-width="1"/>
<rect x="138.50" y="958.70" width="12" height="10.80" fill="#3a1b24" stroke="#6b2733" stroke-width="1"/>
<rect x="155.50" y="965.50" width="12" height="4.00" fill="#3a1b24" stroke="#6b2733" stroke-width="1"/>
<rect x="173.50" y="963.70" width="12" height="5.80" fill="#3a1b24" stroke="#6b2733" stroke-width="1"/>
<rect x="191.50" y="957.70" width="12" height="11.80" fill="#3a1b24" stroke="#6b2733" stroke-width="1"/>
<rect x="209.50" y="948.60" width="12" height="20.90" fill="#3a1b24" stroke="#6b2733" stroke-width="1"/>
<rect x="227.50" y="945.60" width="12" height="23.90" fill="#0a3326" stroke="#0d6b40" stroke-width="1"/>
<rect x="245.50" y="958.70" width="12" height="10.80" fill="#0a3326" stroke="#0d6b40" stroke-width="1"/>
<rect x="262.50" y="955.70" width="12" height="13.80" fill="#0a3326" stroke="#0d6b40" stroke-width="1"/>
<rect x="280.50" y="966.70" width="12" height="2.80" fill="#3a1b24" stroke="#6b2733" stroke-width="1"/>
<rect x="298.50" y="955.70" width="12" height="13.80" fill="#3a1b24" stroke="#6b2733" stroke-width="1"/>
<rect x="316.50" y="954.70" width="12" height="14.80" fill="#0a3326" stroke="#0d6b40" stroke-width="1"/>
<rect x="334.50" y="956.70" width="12" height="12.80" fill="#0a3326" stroke="#0d6b40" stroke-width="1"/>
<rect x="351.50" y="955.70" width="12" height="13.80" fill="#0a3326" stroke="#0d6b40" stroke-width="1"/>
<rect x="369.50" y="943.60" width="12" height="25.90" fill="#3a1b24" stroke="#6b2733" stroke-width="1"/>
<rect x="387.50" y="940.60" width="12" height="28.90" fill="#3a1b24" stroke="#6b2733" stroke-width="1"/>
<rect x="405.50" y="938.60" width="12" height="30.90" fill="#3a1b24" stroke="#6b2733" stroke-width="1"/>
<rect x="423.50" y="948.60" width="12" height="20.90" fill="#3a1b24" stroke="#6b2733" stroke-width="1"/>
<rect x="441.50" y="939.60" width="12" height="29.90" fill="#0a3326" stroke="#0d6b40" stroke-width="1"/>
<rect x="458.50" y="934.60" width="12" height="34.90" fill="#3a1b24" stroke="#6b2733" stroke-width="1"/>
<rect x="476.50" y="935.60" width="12" height="33.90" fill="#3a1b24" stroke="#6b2733" stroke-width="1"/>
<rect x="494.50" y="891.60" width="12" height="77.90" fill="#3a1b24" stroke="#6b2733" stroke-width="1"/>
<rect x="512.50" y="904.70" width="12" height="64.80" fill="#0a3326" stroke="#0d6b40" stroke-width="1"/>
<rect x="530.50" y="938.60" width="12" height="30.90" fill="#3a1b24" stroke="#6b2733" stroke-width="1"/>
<rect x="547.50" y="951.70" width="12" height="17.80" fill="#0a3326" stroke="#0d6b40" stroke-width="1"/>
<rect x="565.50" y="944.60" width="12" height="24.90" fill="#3a1b24" stroke="#6b2733" stroke-width="1"/>
<rect x="583.50" y="948.60" width="12" height="20.90" fill="#3a1b24" stroke="#6b2733" stroke-width="1"/>
<rect x="601.50" y="940.60" width="12" height="28.90" fill="#3a1b24" stroke="#6b2733" stroke-width="1"/>
<rect x="619.50" y="946.60" width="12" height="22.90" fill="#3a1b24" stroke="#6b2733" stroke-width="1"/>
<rect x="636.50" y="948.60" width="12" height="20.90" fill="#0a3326" stroke="#0d6b40" stroke-width="1"/>
<rect x="654.50" y="957.70" width="12" height="11.80" fill="#0a3326" stroke="#0d6b40" stroke-width="1"/>
<rect x="672.50" y="952.70" width="12" height="16.80" fill="#3a1b24" stroke="#6b2733" stroke-width="1"/>
<rect x="690.50" y="952.70" width="12" height="16.80" fill="#0a3326" stroke="#0d6b40" stroke-width="1"/>
<rect x="708.50" y="952.70" width="12" height="16.80" fill="#3a1b24" stroke="#6b2733" stroke-width="1"/>
<rect x="726.50" y="951.70" width="12" height="17.80" fill="#3a1b24" stroke="#6b2733" stroke-width="1"/>
<rect x="743.50" y="953.70" width="12" height="15.80" fill="#0a3326" stroke="#0d6b40" stroke-width="1"/>
<rect x="761.50" y="943.60" width="12" height="25.90" fill="#0a3326" stroke="#0d6b40" stroke-width="1"/>
<rect x="779.50" y="960.70" width="12" height="8.80" fill="#3a1b24" stroke="#6b2733" stroke-width="1"/>
<rect x="797.50" y="960.70" width="12" height="8.80" fill="#3a1b24" stroke="#6b2733" stroke-width="1"/>
<rect x="815.50" y="937.60" width="12" height="31.90" fill="#3a1b24" stroke="#6b2733" stroke-width="1"/>
<rect x="832.50" y="944.60" width="12" height="24.90" fill="#3a1b24" stroke="#6b2733" stroke-width="1"/>
<rect x="850.50" y="935.60" width="12" height="33.90" fill="#0a3326" stroke="#0d6b40" stroke-width="1"/>
<rect x="868.50" y="949.60" width="12" height="19.90" fill="#3a1b24" stroke="#6b2733" stroke-width="1"/>
<rect x="886.50" y="946.60" width="12" height="22.90" fill="#3a1b24" stroke="#6b2733" stroke-width="1"/>
<rect x="904.50" y="939.60" width="12" height="29.90" fill="#0a3326" stroke="#0d6b40" stroke-width="1"/>
<rect x="922.50" y="944.60" width="12" height="24.90" fill="#3a1b24" stroke="#6b2733" stroke-width="1"/>
<rect x="939.50" y="937.60" width="12" height="31.90" fill="#0a3326" stroke="#0d6b40" stroke-width="1"/>
<rect x="957.50" y="940.60" width="12" height="28.90" fill="#3a1b24" stroke="#6b2733" stroke-width="1"/>
<rect x="975.50" y="928.50" width="12" height="41.00" fill="#0a3326" stroke="#0d6b40" stroke-width="1"/>
<rect x="993.50" y="943.60" width="12" height="25.90" fill="#3a1b24" stroke="#6b2733" stroke-width="1"/>
<rect x="1011.50" y="945.60" width="12" height="23.90" fill="#3a1b24" stroke="#6b2733" stroke-width="1"/>
<rect x="1028.50" y="959.70" width="12" height="9.80" fill="#3a1b24" stroke="#6b2733" stroke-width="1"/>
<rect x="1046.50" y="952.70" width="12" height="16.80" fill="#3a1b24" stroke="#6b2733" stroke-width="1"/>
<rect x="1064.50" y="942.60" width="12" height="26.90" fill="#0a3326" stroke="#0d6b40" stroke-width="1"/>
<rect x="1082.50" y="939.60" width="12" height="29.90" fill="#0a3326" stroke="#0d6b40" stroke-width="1"/>
<rect x="1100.50" y="947.60" width="12" height="21.90" fill="#0a3326" stroke="#0d6b40" stroke-width="1"/>
<rect x="1117.50" y="948.60" width="12" height="20.90" fill="#0a3326" stroke="#0d6b40" stroke-width="1"/>
<text x="25.3" y="892.9" font-family="Liberation Sans, sans-serif" font-size="12" font-weight="bold" fill="#7d8590" textLength="20.4" lengthAdjust="spacingAndGlyphs">Vol</text>
<text x="144.7" y="985" font-family="Liberation Sans, sans-serif" font-size="11.5" fill="#848b95" textLength="34.5" lengthAdjust="spacingAndGlyphs">Jan 17</text>
<text x="322.9" y="985" font-family="Liberation Sans, sans-serif" font-size="11.5" fill="#848b95" textLength="34.5" lengthAdjust="spacingAndGlyphs">Jan 27</text>
<text x="499.5" y="985" font-family="Liberation Sans, sans-serif" font-size="11.5" fill="#848b95" textLength="37.6" lengthAdjust="spacingAndGlyphs">Feb 06</text>
<text x="677.6" y="985" font-family="Liberation Sans, sans-serif" font-size="11.5" fill="#848b95" textLength="37.6" lengthAdjust="spacingAndGlyphs">Feb 16</text>
<text x="855.8" y="985" font-family="Liberation Sans, sans-serif" font-size="11.5" fill="#848b95" textLength="37.6" lengthAdjust="spacingAndGlyphs">Feb 26</text>
<text x="1033.6" y="985" font-family="Liberation Sans, sans-serif" font-size="11.5" fill="#848b95" textLength="38.2" lengthAdjust="spacingAndGlyphs">Mar 08</text>
<text x="1180.2" y="1017" font-family="Liberation Sans, sans-serif" font-size="13" font-style="italic" fill="#262a31" textLength="79.6" lengthAdjust="spacingAndGlyphs">cryance.com</text>
</svg>
</body></html>
